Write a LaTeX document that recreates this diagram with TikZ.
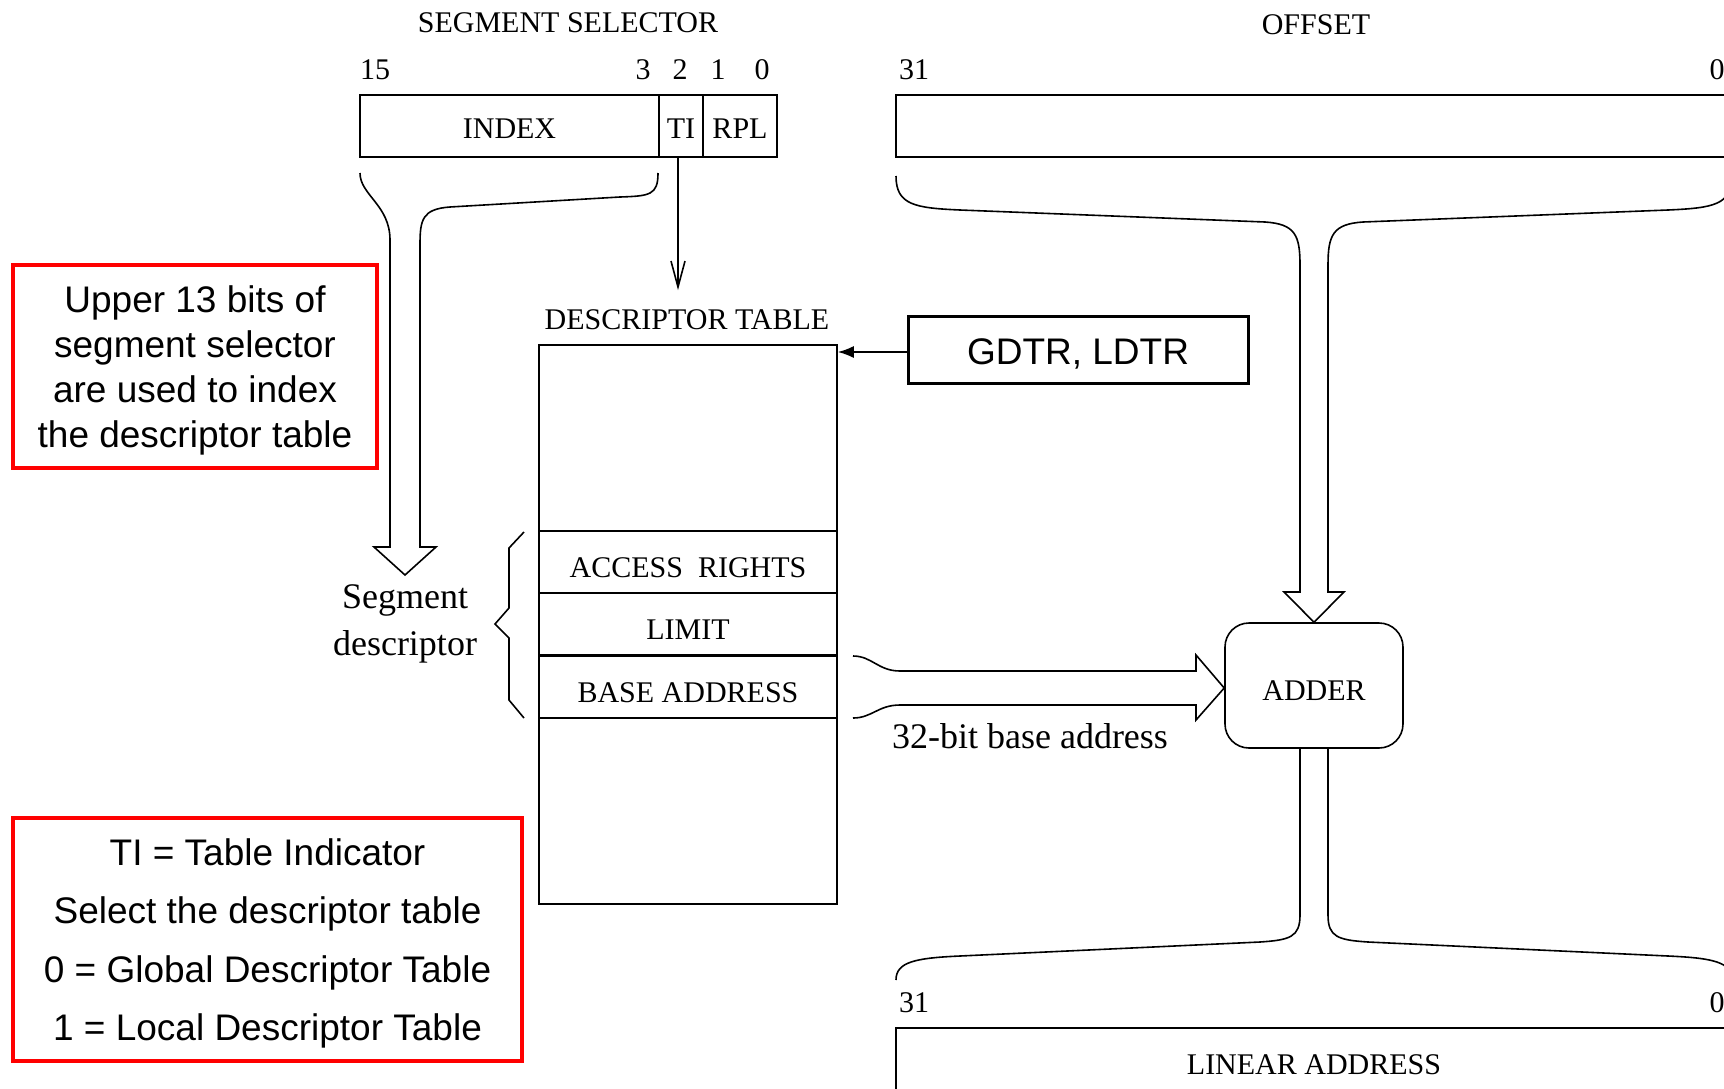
\documentclass[tikz,border=0pt]{standalone}
\usepackage{fontspec}
\setmainfont{Liberation Serif}
\newfontfamily\arialfont{Liberation Sans}
\usetikzlibrary{arrows.meta}
\tikzset{
  field/.style={draw, line width=0.8pt, inner sep=0pt, minimum height=31pt, text depth=0pt, text height=12pt, font=\fontsize{15}{18}\selectfont},
  lowtext/.style={text depth=0pt, text height=15pt},
  bitno/.style={inner sep=0pt, font=\fontsize{15}{18}\selectfont},
  caption/.style={inner sep=0pt, font=\fontsize{15}{18}\selectfont},
  bigtext/.style={inner sep=0pt, anchor=base, font=\fontsize{18}{23.5}\selectfont},
  note/.style={draw=red, line width=1.7pt, align=center, inner sep=0pt, text depth=0pt, font=\arialfont\fontsize{18.5}{22.4}\selectfont},
}
\begin{document}
\begin{tikzpicture}[x=0.5pt, y=-0.5pt, line width=0.8pt]
  \useasboundingbox (0,0) rectangle (1724,1088);
  \clip (0,0) rectangle (1724,1088);
  \fill[white] (0,0) rectangle (1724,1088);

  \node[caption] (seltitle) at (568,23) {SEGMENT SELECTOR};
  \node[bitno] (b15) at (375,70) {15};
  \node[bitno] (b3) at (643,70) {3};
  \node[bitno] (b2) at (680,70) {2};
  \node[bitno] (b1) at (718,70) {1};
  \node[bitno] (b0) at (762,70) {0};
  \node[field, minimum width=149.5pt] (index) at (509.5,126) {INDEX};
  \node[field, minimum width=22pt] (ti) at (681,126) {TI};
  \node[field, minimum width=37pt] (rpl) at (740,126) {RPL};

  \node[caption] (offtitle) at (1316,25) {OFFSET};
  \node[bitno] (o31) at (914,70) {31};
  \node[bitno] (o0) at (1717,70) {0};
  \node[field, minimum width=418pt] (offsetbox) at (1314,126) {};

  \node[caption] (dtlabel) at (687,320) {DESCRIPTOR TABLE};
  \node[draw, inner sep=0pt, minimum width=149pt, minimum height=279.5pt] (dtable) at (688,624.5) {};
  \node[field, lowtext, minimum width=149pt] (access) at (688,562) {ACCESS\ \ RIGHTS};
  \node[field, lowtext, minimum width=149pt] (limit) at (688,624) {LIMIT};
  \node[field, lowtext, minimum width=149pt] (base) at (688,687) {BASE ADDRESS};

  \node[draw, line width=1.5pt, inner sep=0pt, minimum width=170pt, minimum height=33.5pt, text depth=0pt, text height=15pt, font=\arialfont\fontsize{18.5}{22}\selectfont] (gdtr) at (1078,349.5) {GDTR, LDTR};
  \node[draw, rounded corners=12pt, inner sep=0pt, minimum width=89pt, minimum height=62.5pt, lowtext, font=\fontsize{15}{18}\selectfont] (adder) at (1314,685.5) {ADDER};

  \node[bigtext] (segA) at (405,608) {Segment};
  \node[bigtext] (segB) at (405,655) {descriptor};
  \node[bigtext] (baselbl) at (1030,748) {32-bit base address};

  \node[bitno] (l31) at (914,1003) {31};
  \node[bitno] (l0) at (1717,1003) {0};
  \node[field, minimum width=418pt, minimum height=34pt] (linear) at (1314,1062) {LINEAR ADDRESS};

  \node[note, minimum width=182pt, minimum height=101.5pt] (notea) at (195,366.5)
    {Upper 13 bits of\\segment selector\\are used to index\\the descriptor table};
  \node[note, minimum width=254.5pt, minimum height=121.5pt, font=\arialfont\fontsize{18.5}{29.2}\selectfont] (noteb) at (267.5,939.5)
    {TI = Table Indicator\\Select the descriptor table\\0 = Global Descriptor Table\\1 = Local Descriptor Table};

  \draw[-{Straight Barb[length=13pt,width=7pt]}, shorten >=9.5pt] ([xshift=-1.5pt]ti.south) -- ([xshift=-1.5pt]ti.south |- dtlabel.north);
  \draw[-{Latex[length=8pt,width=6pt]}] ([yshift=-1.25pt]gdtr.west) -- ([yshift=-1.25pt]gdtr.west -| dtable.east);

  \draw (360,173) .. controls (360,195) and (390,205) .. (390,240) -- (390,547) -- (374,547) -- (405,575)
    -- (436,547) -- (420,547) -- (420,245) .. controls (420,220) and (422,209) .. (450,207)
    -- (620,197) .. controls (650,196) and (658,195) .. (658,173);

  \draw (524,532) -- (509,548) -- (509,608) -- (495,624) -- (509,638) -- (509,700) -- (524,718);

  \draw (853,656) .. controls (872,656) and (878,671) .. (900,671) -- (1196,671) -- (1196,655) -- ([yshift=-1.25pt]adder.west)
    -- (1196,720) -- (1196,705) -- (900,705) .. controls (878,705) and (872,718) .. (853,718);

  \draw (896,176) .. controls (896,205) and (915,208) .. (960,210) -- (1265,222) .. controls (1295,224) and (1300,235) .. (1300,265)
    -- (1300,592) -- (1284,592) -- (adder.north) -- (1344,592) -- (1328,592)
    -- (1328,265) .. controls (1328,235) and (1333,224) .. (1363,222) -- (1668,210) .. controls (1713,208) and (1732,205) .. (1732,176);

  \draw ([xshift=-7pt]adder.south) -- (1300,915) .. controls (1300,937) and (1290,940) .. (1260,942)
    -- (960,956) .. controls (915,958) and (896,962) .. (896,980);
  \draw ([xshift=7pt]adder.south) -- (1328,915) .. controls (1328,937) and (1338,940) .. (1368,942)
    -- (1668,956) .. controls (1713,958) and (1732,962) .. (1732,980);
\end{tikzpicture}
\end{document}
